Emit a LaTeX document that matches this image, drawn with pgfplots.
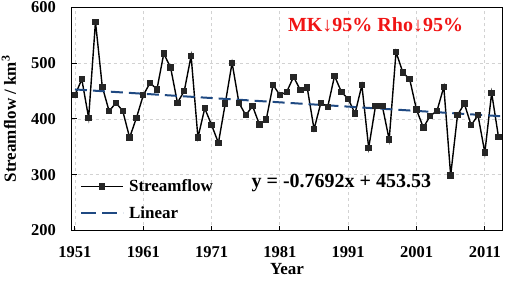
\documentclass[border=0pt]{standalone}
\usepackage{fontspec}
\setmainfont{Liberation Serif}
\usepackage{pgfplots}
\pgfplotsset{compat=1.18}
\usetikzlibrary{calc}
\definecolor{trend}{RGB}{31,73,130}
\definecolor{mk}{RGB}{240,20,20}
\newcommand{\tickf}{\fontsize{16.5}{19}\selectfont\bfseries}
\newcommand{\labf}{\fontsize{17}{20}\selectfont\bfseries}
\newcommand{\annf}{\fontsize{20}{24}\selectfont\bfseries}
\begin{document}
\begin{tikzpicture}
\begin{axis}[
  scale only axis, width=430.6pt, height=223.2pt,
  xmin=1950.52, xmax=2013.56, ymin=200, ymax=600,
  xtick={1951,1961,1971,1981,1991,2001,2011},
  xticklabels={1951,1961,1971,1981,1991,2001,2011},
  ytick={200,300,400,500,600},
  grid=major, grid style={dashed, gray!35, line width=0.8pt},
  axis line style={line width=1.2pt},
  tick style={black, line width=1pt}, tick align=inside, major tick length=5pt,
  xtick pos=bottom, ytick pos=left,
  /pgf/number format/assume math mode=true,
  ticklabel style={font=\tickf},
  xticklabel style={anchor=north, inner sep=0pt, yshift=-16pt},
  yticklabel style={anchor=east, inner sep=0pt, xshift=-15.5pt},
  xlabel={Year}, ylabel={Streamflow / km\textsuperscript{3}},
  label style={font=\labf},
  xlabel style={at={(axis description cs:0.5,-0.1725)}, anchor=center},
  ylabel style={at={(axis description cs:-0.1456,0.5)}, anchor=center},
  legend style={draw=none, fill=none, at={(0.012,0.03)}, anchor=south west, font=\labf, row sep=9pt,
    nodes={inner xsep=5pt}},
  legend cell align=left,
  legend image code/.code={\draw[mark repeat=2, mark phase=2, #1] plot coordinates {(0pt,0pt) (21pt,0pt) (42pt,0pt)};},
]
\addplot[black, line width=1.4pt, mark=square*, mark size=2.5pt, mark options={fill=black!85, draw=black!85, solid}] coordinates {
(1951,442.5) (1952,471) (1953,401.8) (1954,574) (1955,457.5) (1956,413.8) (1957,429) (1958,414) (1959,366.5) (1960,402)
(1961,442.5) (1962,464.7) (1963,453) (1964,517) (1965,492) (1966,429) (1967,450) (1968,513) (1969,366.5) (1970,419)
(1971,389) (1972,357) (1973,427.5) (1974,500.6) (1975,429) (1976,406.6) (1977,423) (1978,390) (1979,398.8) (1980,461)
(1981,442.5) (1982,448.5) (1983,475.4) (1984,451.5) (1985,456) (1986,381.4) (1987,429) (1988,421.6) (1989,477) (1990,448.5)
(1991,436) (1992,409.6) (1993,460.5) (1994,348) (1995,423.4) (1996,422.8) (1997,362.9) (1998,520) (1999,483.2) (2000,471.3)
(2001,416.5) (2002,384.4) (2003,405.4) (2004,414.4) (2005,457.5) (2006,298.8) (2007,406.6) (2008,427.5) (2009,388.6) (2010,406.6)
(2011,339.5) (2012,446.7) (2013,367.7)
};
\addlegendentry{Streamflow}
\addplot[trend, line width=2pt, dash pattern=on 12pt off 6pt, forget plot] coordinates {(1951,452.76) (2013.5,404.7)};
\addlegendimage{trend, line width=2pt, dash pattern=on 15pt off 6pt}
\addlegendentry{Linear}
\node[font=\annf, anchor=center] at (axis cs:1990,285) {y = -0.7692x + 453.53};
\node[font=\annf, text=mk, anchor=center] at (axis cs:1995,568) {MK↓95\% Rho↓95\%};
\end{axis}
\pgfresetboundingbox
\path[use as bounding box] ($(current axis.south west)+(-71.7pt,-53.5pt)$) rectangle ($(current axis.north east)+(2.7pt,7.3pt)$);
\end{tikzpicture}
\end{document}
